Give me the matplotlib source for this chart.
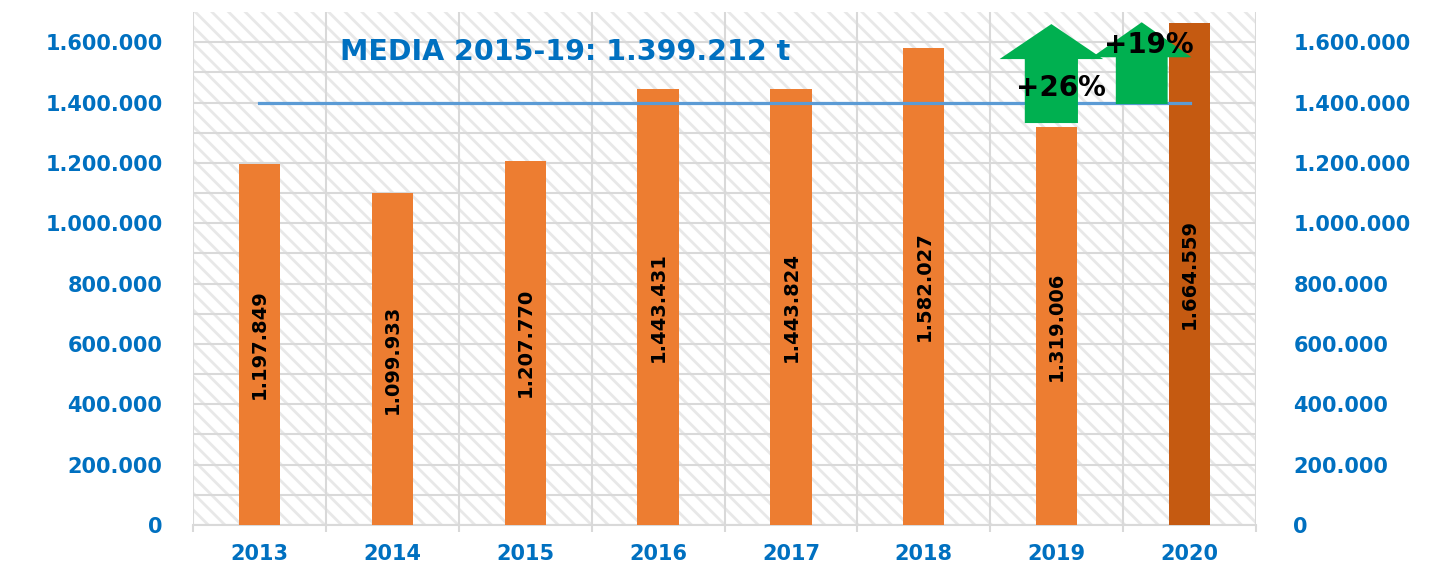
import matplotlib.pyplot as plt
import numpy as np
from matplotlib.patches import Rectangle, Polygon
from matplotlib.ticker import FuncFormatter, MultipleLocator

years = ['2013', '2014', '2015', '2016', '2017', '2018', '2019', '2020']
values = [1197849, 1099933, 1207770, 1443431, 1443824, 1582027, 1319006, 1664559]
media = 1399212
media_label = 'MEDIA 2015-19: 1.399.212 t'
# arrows: x centre, base, head base, tip, shaft half width, head half width, text
arrows = [
    (5.96, 1332000, 1544000, 1660000, 0.20, 0.39, '+26%', 6.03, 1448000),
    (6.64, 1395000, 1550000, 1666000, 0.195, 0.375, '+19%', 6.69, 1590000),
]

blue = '#0070C0'
orange = '#ED7D31'
dark_orange = '#C55A11'
green = '#00B050'
grid_c = '#D9D9D9'

plt.rcParams['hatch.linewidth'] = 2.0

fig = plt.figure(figsize=(14.37, 5.62), dpi=100)
ax = fig.add_axes([193/1437, 1 - 525/562, (1256-193)/1437, (525-12)/562])

x = np.arange(len(years))
colors = [orange] * (len(years) - 1) + [dark_orange]

# hatched background
ax.add_patch(Rectangle((0, 0), 1, 1, transform=ax.transAxes, facecolor='white',
                       edgecolor='#E8E8E8', lw=0, hatch='\\\\', zorder=0))

bars = ax.bar(x, values, width=0.31, color=colors, zorder=3)
ax.bar_label(bars, labels=[f'{v:,}'.replace(',', '.') for v in values],
             label_type='center', rotation=90, fontsize=14, color='black',
             fontweight='semibold', zorder=4)

ax.plot([x[0], x[-1]], [media, media], color='#5B9BD5', lw=2.3, zorder=5)
ax.text(2.30, 1567000, media_label, color=blue, fontsize=20.5, fontweight='bold',
        ha='center', va='center', zorder=6)

for xc, base, hb, tip, sw, hw, txt, tx, ty in arrows:
    pts = [(xc - sw, base), (xc + sw, base), (xc + sw, hb), (xc + hw, hb),
           (xc, tip), (xc - hw, hb), (xc - sw, hb)]
    ax.add_patch(Polygon(pts, closed=True, facecolor=green, edgecolor='none', zorder=6))
    ax.text(tx, ty, txt, fontsize=20, fontweight='bold', color='black',
            ha='center', va='center', zorder=7)

ax.set_xlim(-0.5, len(years) - 0.5)
ax.set_ylim(0, 1700000)
ax.yaxis.set_major_locator(MultipleLocator(200000))
ax.set_yticks(np.arange(100000, 1700000, 200000), minor=True)
fmt = FuncFormatter(lambda v, p: f'{int(v):,}'.replace(',', '.'))
ax.yaxis.set_major_formatter(fmt)
ax.grid(which='both', axis='y', color=grid_c, lw=1.5, zorder=1)
for b in np.arange(-0.5, len(years), 1):
    ax.axvline(b, color=grid_c, lw=1.5, zorder=1)

ax.set_xticks(x)
ax.set_xticklabels(years)
ax.set_xticks(np.arange(-0.5, len(years), 1), minor=True)
ax.tick_params(axis='x', which='major', length=0, pad=14, labelsize=15,
               labelcolor=blue)
ax.tick_params(axis='x', which='minor', length=5, color=grid_c, width=1.5)
ax.tick_params(axis='y', which='both', length=0, pad=22, labelsize=15,
               labelcolor=blue)
for lab in ax.get_xticklabels() + ax.get_yticklabels():
    lab.set_fontweight('bold')
for s in ['top', 'left', 'right']:
    ax.spines[s].set_visible(False)
ax.spines['bottom'].set_color(grid_c)
ax.spines['bottom'].set_linewidth(1.5)

ax2 = ax.twinx()
ax2.set_ylim(ax.get_ylim())
ax2.yaxis.set_major_locator(MultipleLocator(200000))
ax2.yaxis.set_major_formatter(fmt)
ax2.tick_params(axis='y', length=0, pad=27, labelsize=15, labelcolor=blue)
for lab in ax2.get_yticklabels():
    lab.set_fontweight('bold')
    lab.set_ha('left')
for s in ax2.spines.values():
    s.set_visible(False)

fig.savefig('out.png', dpi=100)
